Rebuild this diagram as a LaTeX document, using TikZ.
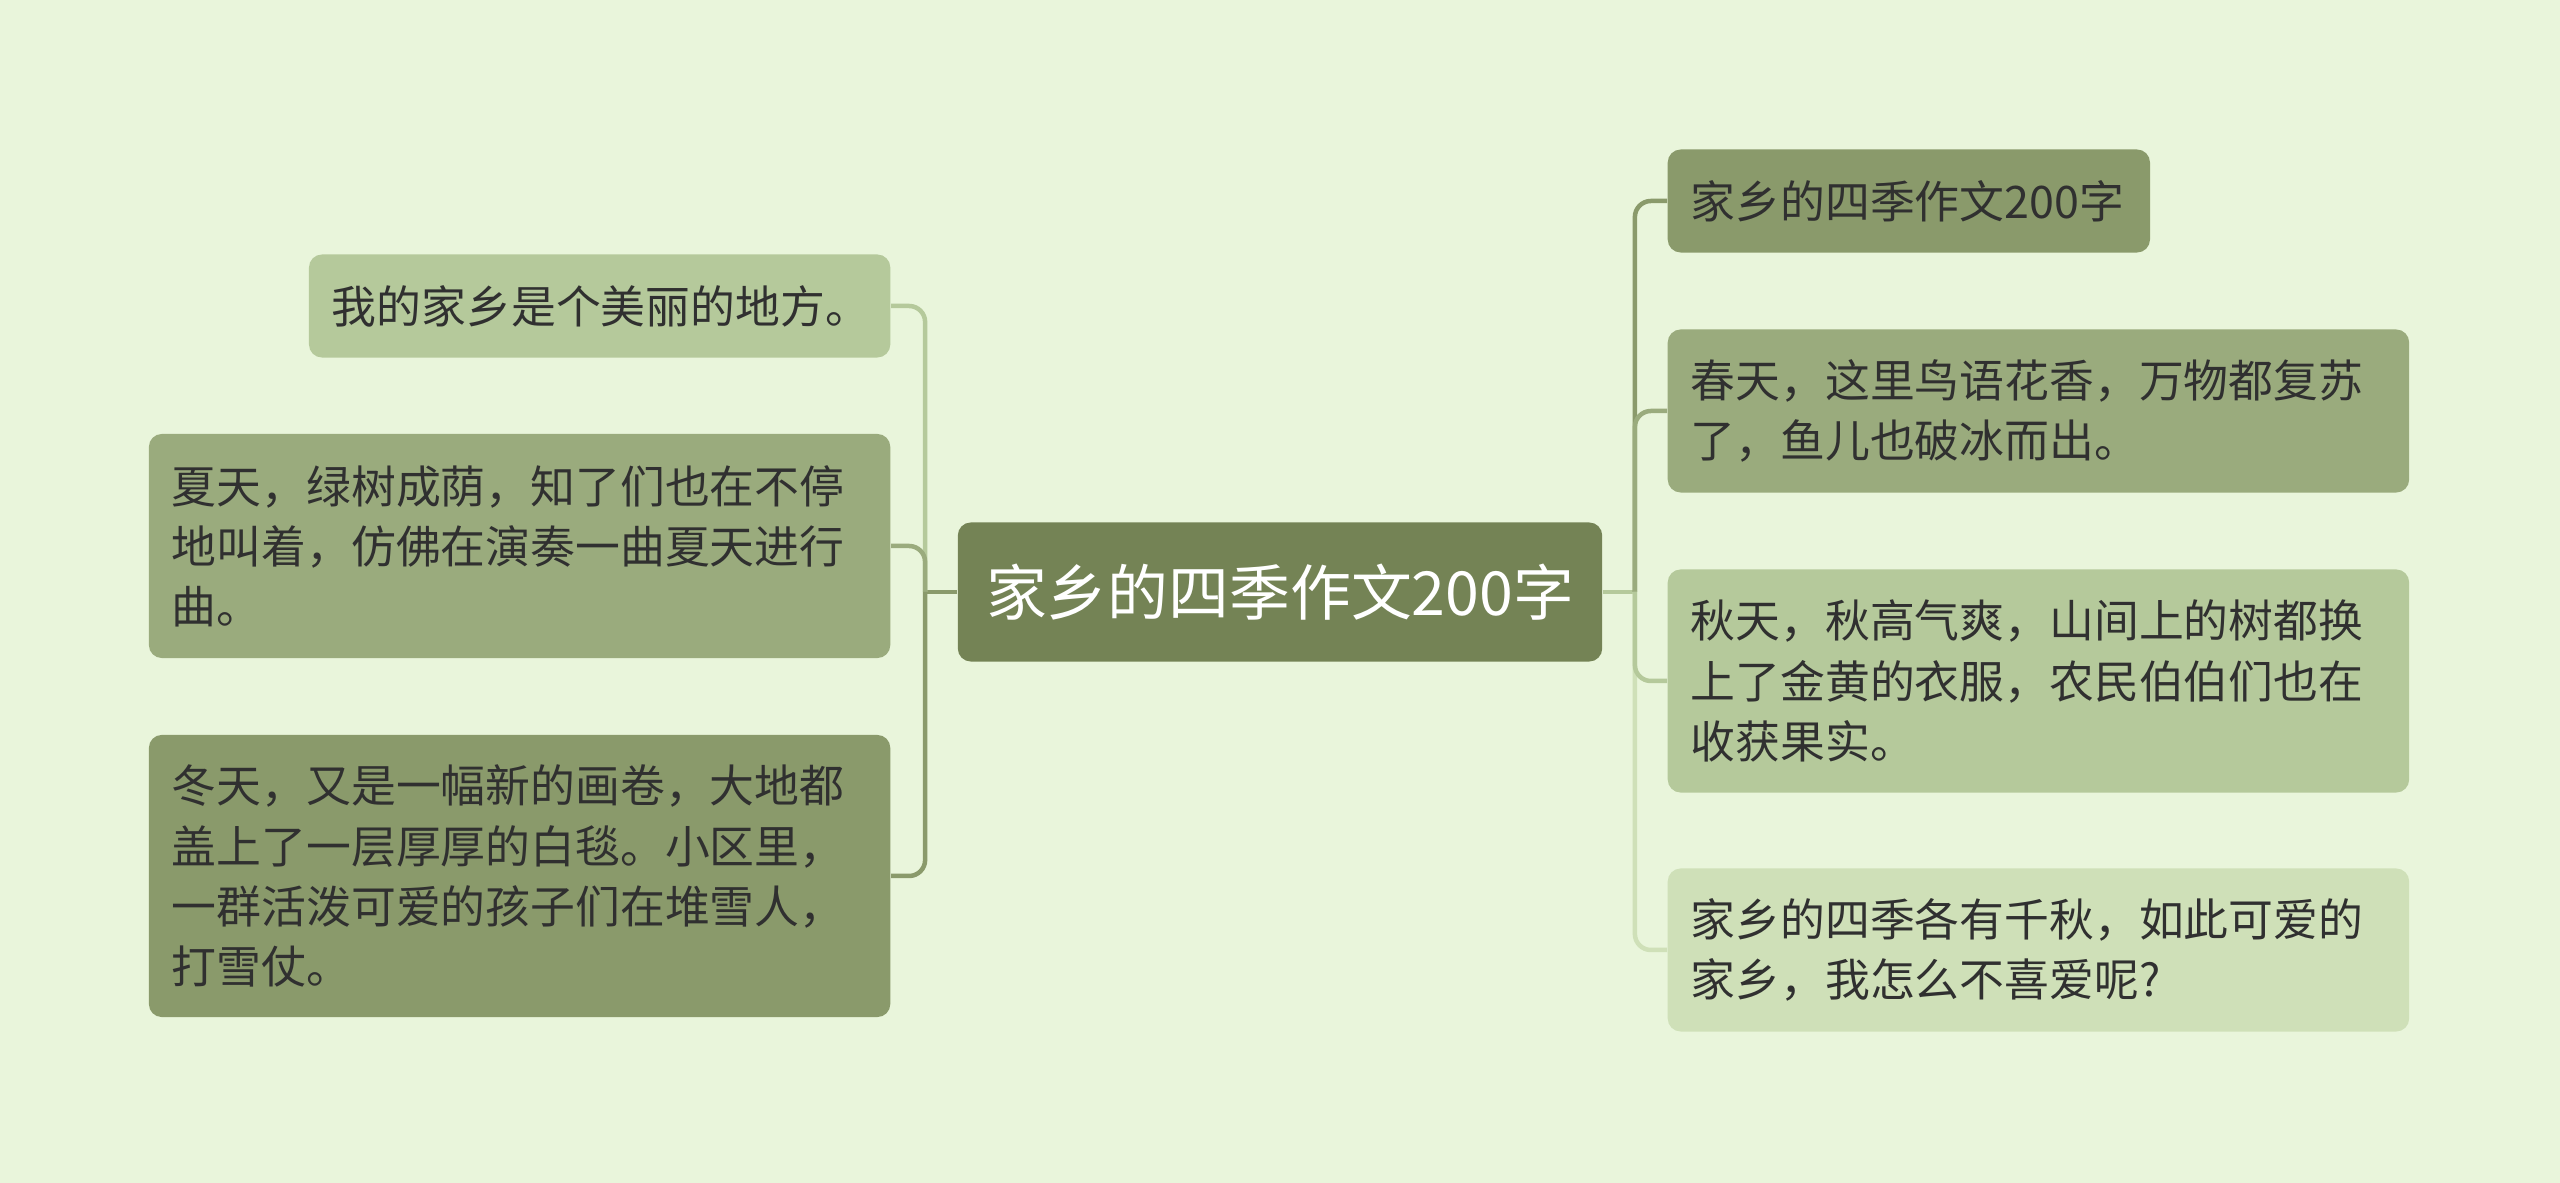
\documentclass[tikz,border=0pt]{standalone}
\usepackage{fontspec}
\setmainfont{Noto Sans CJK SC}
\usetikzlibrary{calc}
\definecolor{bgc}{HTML}{E9F5DB}
\definecolor{rootc}{HTML}{748355}
\definecolor{dkc}{HTML}{8A9A6B}
\definecolor{mdc}{HTML}{9AAB7D}
\definecolor{ltc}{HTML}{B5C99B}
\definecolor{plc}{HTML}{CFE0B8}
\definecolor{txc}{HTML}{303030}
\begin{document}
\begin{tikzpicture}[x=0.01cm, y=-0.01cm,
  leaf/.style={rectangle, rounded corners=0.13cm, align=left, inner xsep=0.23cm, inner ysep=0pt, text=txc, font=\fontsize{12.75}{17.1}\selectfont},
  ln/.style={line width=0.045cm, rounded corners=0.16cm}]
\fill[bgc] (0,0) rectangle (2560,1183);
\useasboundingbox (0,0) rectangle (2560,1183);
\node[rectangle, rounded corners=0.13cm, fill=rootc, text=white, font=\fontsize{17.3}{20}\selectfont, minimum width=6.44cm, minimum height=1.39cm] (root) at (1280,592){家乡的四季作文200字};
\node[leaf, fill=ltc, anchor=east, text width=5.35cm, minimum height=1.03cm] (l1) at (891,306){我的家乡是个美丽的地方。};
\node[leaf, fill=mdc, anchor=east, text width=6.95cm, minimum height=2.24cm] (l2) at (891,546){夏天，绿树成荫，知了们也在不停\\地叫着，仿佛在演奏一曲夏天进行\\曲。};
\node[leaf, fill=dkc, anchor=east, text width=6.95cm, minimum height=2.82cm] (l3) at (891,876){冬天，又是一幅新的画卷，大地都\\盖上了一层厚厚的白毯。小区里，\\一群活泼可爱的孩子们在堆雪人，\\打雪仗。};
\node[leaf, fill=dkc, anchor=west, text width=4.36cm, minimum height=1.03cm] (r1) at (1667,201){家乡的四季作文200字};
\node[leaf, fill=mdc, anchor=west, text width=6.95cm, minimum height=1.63cm] (r2) at (1667,411){春天，这里鸟语花香，万物都复苏\\了，鱼儿也破冰而出。};
\node[leaf, fill=ltc, anchor=west, text width=6.95cm, minimum height=2.23cm] (r3) at (1667,681){秋天，秋高气爽，山间上的树都换\\上了金黄的衣服，农民伯伯们也在\\收获果实。};
\node[leaf, fill=plc, anchor=west, text width=6.95cm, minimum height=1.63cm] (r4) at (1667,950){家乡的四季各有千秋，如此可爱的\\家乡，我怎么不喜爱呢?};
\coordinate (lj) at ($(root.west)+(-32,0)$);
\coordinate (rj) at ($(root.east)+(32,0)$);
\draw[ln, dkc] (root.west) -- (lj);
\draw[ln, ltc] (root.east) -- (rj);
\draw[ln, ltc] (lj) |- (l1.east);
\draw[ln, mdc] (lj) |- (l2.east);
\draw[ln, dkc] (lj) |- (l3.east);
\draw[ln, dkc] (rj) |- (r1.west);
\draw[ln, mdc] (rj) |- (r2.west);
\draw[ln, plc] (rj) |- (r4.west);
\draw[ln, ltc] (rj) |- (r3.west);
\end{tikzpicture}
\end{document}
